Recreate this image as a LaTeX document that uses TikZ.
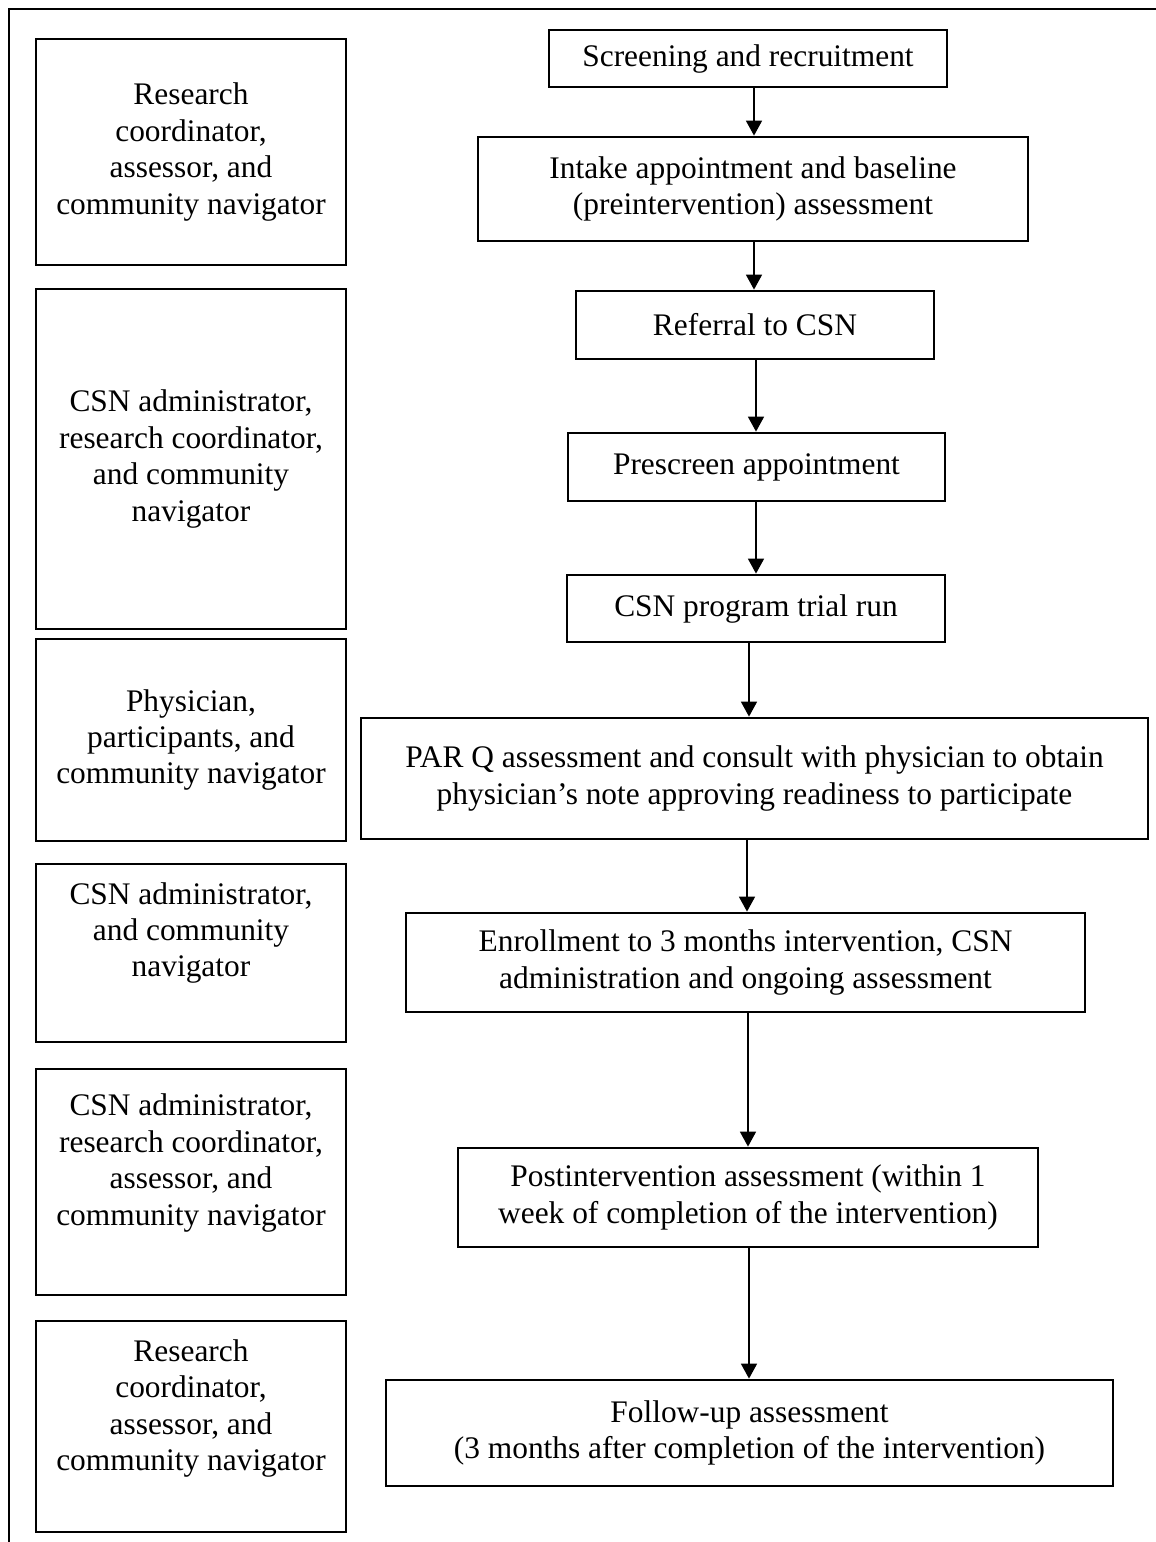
\documentclass[tikz,border=0pt]{standalone}
\usepackage{fontspec}
\setmainfont{Liberation Serif}
\usetikzlibrary{arrows.meta}
\tikzset{
  frame/.style={draw, line width=1.3pt},
  role/.style={draw, line width=1.4pt, minimum width=155pt, align=center, inner sep=0pt},
  roletext/.style={align=center, inner sep=0pt},
  stage/.style={draw, line width=1.4pt, align=center, inner sep=0pt},
  flow/.style={line width=0.85pt, -{Triangle[length=7.5pt,width=8pt]}}
}
\begin{document}
\begin{tikzpicture}[x=0.5pt, y=-0.5pt, font=\fontsize{15.7}{18.2}\selectfont]
  \useasboundingbox (0,0) rectangle (1156,1542);

  % outer frame (cut off at the right and bottom)
  \draw[frame] (1156,9) -- (9,9) -- (9,1542);

  % who is involved
  \node[role, minimum height=113pt] (L1) at (191,152)
    {Research\\coordinator,\\assessor, and\\community navigator};
  \node[role, minimum height=170pt] (L2) at (191,459)
    {CSN administrator,\\research coordinator,\\and community\\navigator};
  \node[role, minimum height=101pt] (L3) at (191,740)
    {Physician,\\participants, and\\community navigator};
  \node[role, minimum height=89pt,
    label={[roletext, yshift=10pt]center:{CSN administrator,\\and community\\navigator}}] (L4) at (191,953) {};
  \node[role, minimum height=113pt,
    label={[roletext, yshift=9.5pt]center:{CSN administrator,\\research coordinator,\\assessor, and\\community navigator}}] (L5) at (191,1182) {};
  \node[role, minimum height=105.5pt,
    label={[roletext, yshift=9pt]center:{Research\\coordinator,\\assessor, and\\community navigator}}] (L6) at (191,1426.5) {};

  % study steps
  \node[stage, minimum width=199pt, minimum height=28.5pt] (R1) at (748,58.5)
    {Screening and recruitment};
  \node[stage, minimum width=275pt, minimum height=52pt] (R2) at (753,189)
    {Intake appointment and baseline\\(preintervention) assessment};
  \node[stage, minimum width=179pt, minimum height=34pt] (R3) at (755,325)
    {Referral to CSN};
  \node[stage, minimum width=188.5pt, minimum height=34pt] (R4) at (756.5,467)
    {Prescreen appointment};
  \node[stage, minimum width=189pt, minimum height=33.5pt] (R5) at (756,608.5)
    {CSN program trial run};
  \node[stage, minimum width=393.5pt, minimum height=60.5pt] (R6) at (754.5,778.5)
    {PAR Q assessment and consult with physician to obtain\\physician’s note approving readiness to participate};
  \node[stage, minimum width=339.5pt, minimum height=49.5pt] (R7) at (745.5,962.5)
    {Enrollment to 3 months intervention, CSN\\administration and ongoing assessment};
  \node[stage, minimum width=290pt, minimum height=49.5pt] (R8) at (748,1197.5)
    {Postintervention assessment (within 1\\week of completion of the intervention)};
  \node[stage, minimum width=363.5pt, minimum height=53pt] (R9) at (749.5,1433)
    {Follow-up assessment\\(3 months after completion of the intervention)};

  \foreach \a/\b/\x in {R1/R2/754, R2/R3/754, R3/R4/756, R4/R5/756,
                        R5/R6/749, R6/R7/747, R7/R8/748, R8/R9/749}
    \draw[flow] (\a.south -| \x,0) -- (\b.north -| \x,0);
\end{tikzpicture}
\end{document}
